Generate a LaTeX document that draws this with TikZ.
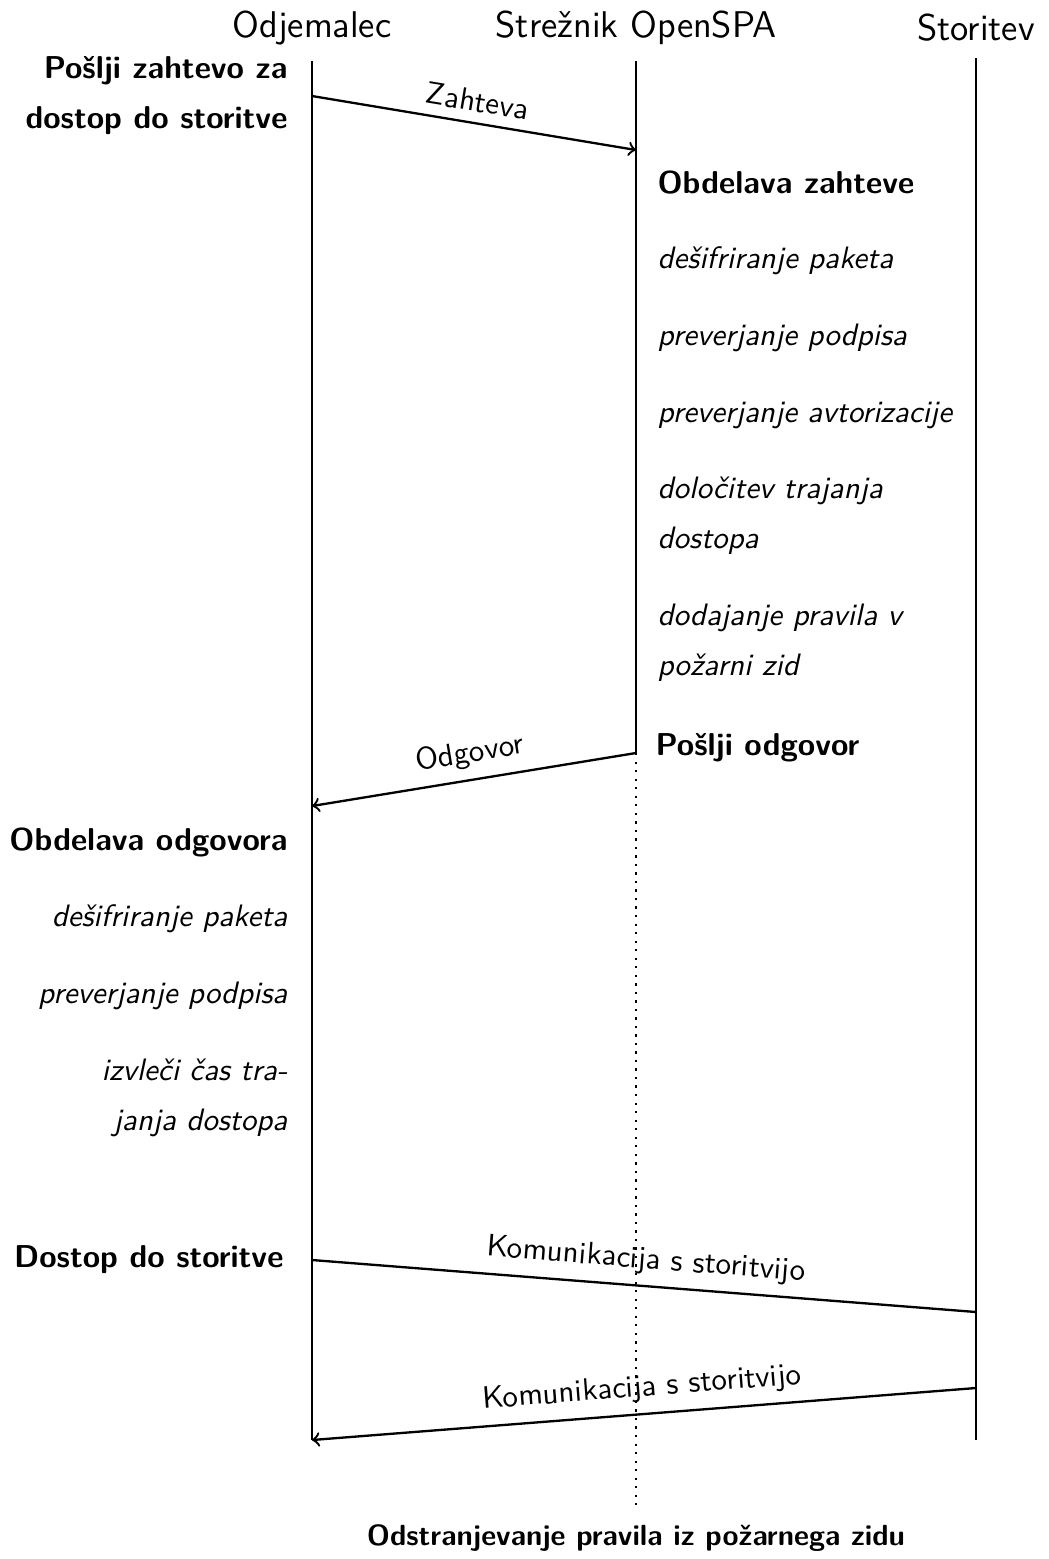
\documentclass[tikz,border=0pt]{standalone}
\usepackage{fontspec}
\begin{document}
\begin{tikzpicture}[x=0.3226pt,y=-0.3226pt,
  every node/.style={font=\sffamily\fontsize{10}{16.1}\selectfont, inner sep=0pt},
  head/.style={font=\sffamily\fontsize{12}{14.5}\selectfont, inner sep=5pt},
  bold label/.style={font=\sffamily\bfseries\fontsize{10.2}{16.1}\selectfont},
  substep/.style={font=\sffamily\itshape\fontsize{10}{16.1}\selectfont},
  life/.style={line width=0.75pt},
  msg/.style={line width=0.75pt},
  msgtxt/.style={midway, above, sloped, inner sep=3.3pt}
]
\useasboundingbox (0,0) rectangle (1049,1559);

% participants
\node[head] (cli) at (312,28) {Odjemalec};
\node[head] (srv) at (636,28) {Strežnik OpenSPA};
\node[head] (svc) at (976,28) {Storitev};

% lifelines
\coordinate (cliEnd)  at (312,1440);
\coordinate (srvStop) at (636,753);
\coordinate (srvEnd)  at (636,1510);
\coordinate (svcEnd)  at (976,1440);
\draw[life] (cli.south) -- (cliEnd);
\draw[life] (srv.south) -- (srvStop);
\draw[life, dotted] (srvStop) -- (srvEnd);
\draw[life] (svc.south) -- (svcEnd);

% message end points
\coordinate (reqA) at (312,96);
\coordinate (reqB) at (636,150);
\coordinate (resB) at (312,806);
\coordinate (comA) at (312,1260);
\coordinate (comB) at (976,1312);
\coordinate (backA) at (976,1388);

% messages
\draw[msg,->] (reqA) -- node[msgtxt] {Zahteva} (reqB);
\draw[msg,->] (srvStop) -- node[msgtxt] {Odgovor} (resB);
\draw[msg] (comA) -- node[msgtxt] {Komunikacija s storitvijo} (comB);
\draw[msg,->] (backA) -- node[msgtxt] {Komunikacija s storitvijo} (cliEnd);

% client side (base anchor of a two-line node sits on its last line)
\node[bold label, align=right, anchor=base east] (send) at (288,128) {Pošlji zahtevo za\\dostop do storitve};
\node[bold label, anchor=base east] (cproc) at (288,850) {Obdelava odgovora};
\node[substep, anchor=base east] (c1) at (288,926) {dešifriranje paketa};
\node[substep, anchor=base east] (c2) at (288,1003) {preverjanje podpisa};
\node[substep, align=right, anchor=base east] (c3) at (288,1130) {izvleči čas tra-\\janja dostopa};
\node[bold label, anchor=base east] (access) at (284,1267) {Dostop do storitve};

% server side
\node[bold label, anchor=base west] (sproc) at (657,193) {Obdelava zahteve};
\node[substep, anchor=base west] (s1) at (657,268) {dešifriranje paketa};
\node[substep, anchor=base west] (s2) at (657,345) {preverjanje podpisa};
\node[substep, anchor=base west] (s3) at (657,422) {preverjanje avtorizacije};
\node[substep, align=left, anchor=base west] (s4) at (657,548) {določitev trajanja\\dostopa};
\node[substep, align=left, anchor=base west] (s5) at (657,675) {dodajanje pravila v\\požarni zid};
\node[bold label, anchor=base west] (reply) at (655,755) {Pošlji odgovor};

\node[bold label, font=\sffamily\bfseries\fontsize{9.4}{16.1}\selectfont, anchor=base] (remove) at (636,1545) {Odstranjevanje pravila iz požarnega zidu};
\end{tikzpicture}
\end{document}
